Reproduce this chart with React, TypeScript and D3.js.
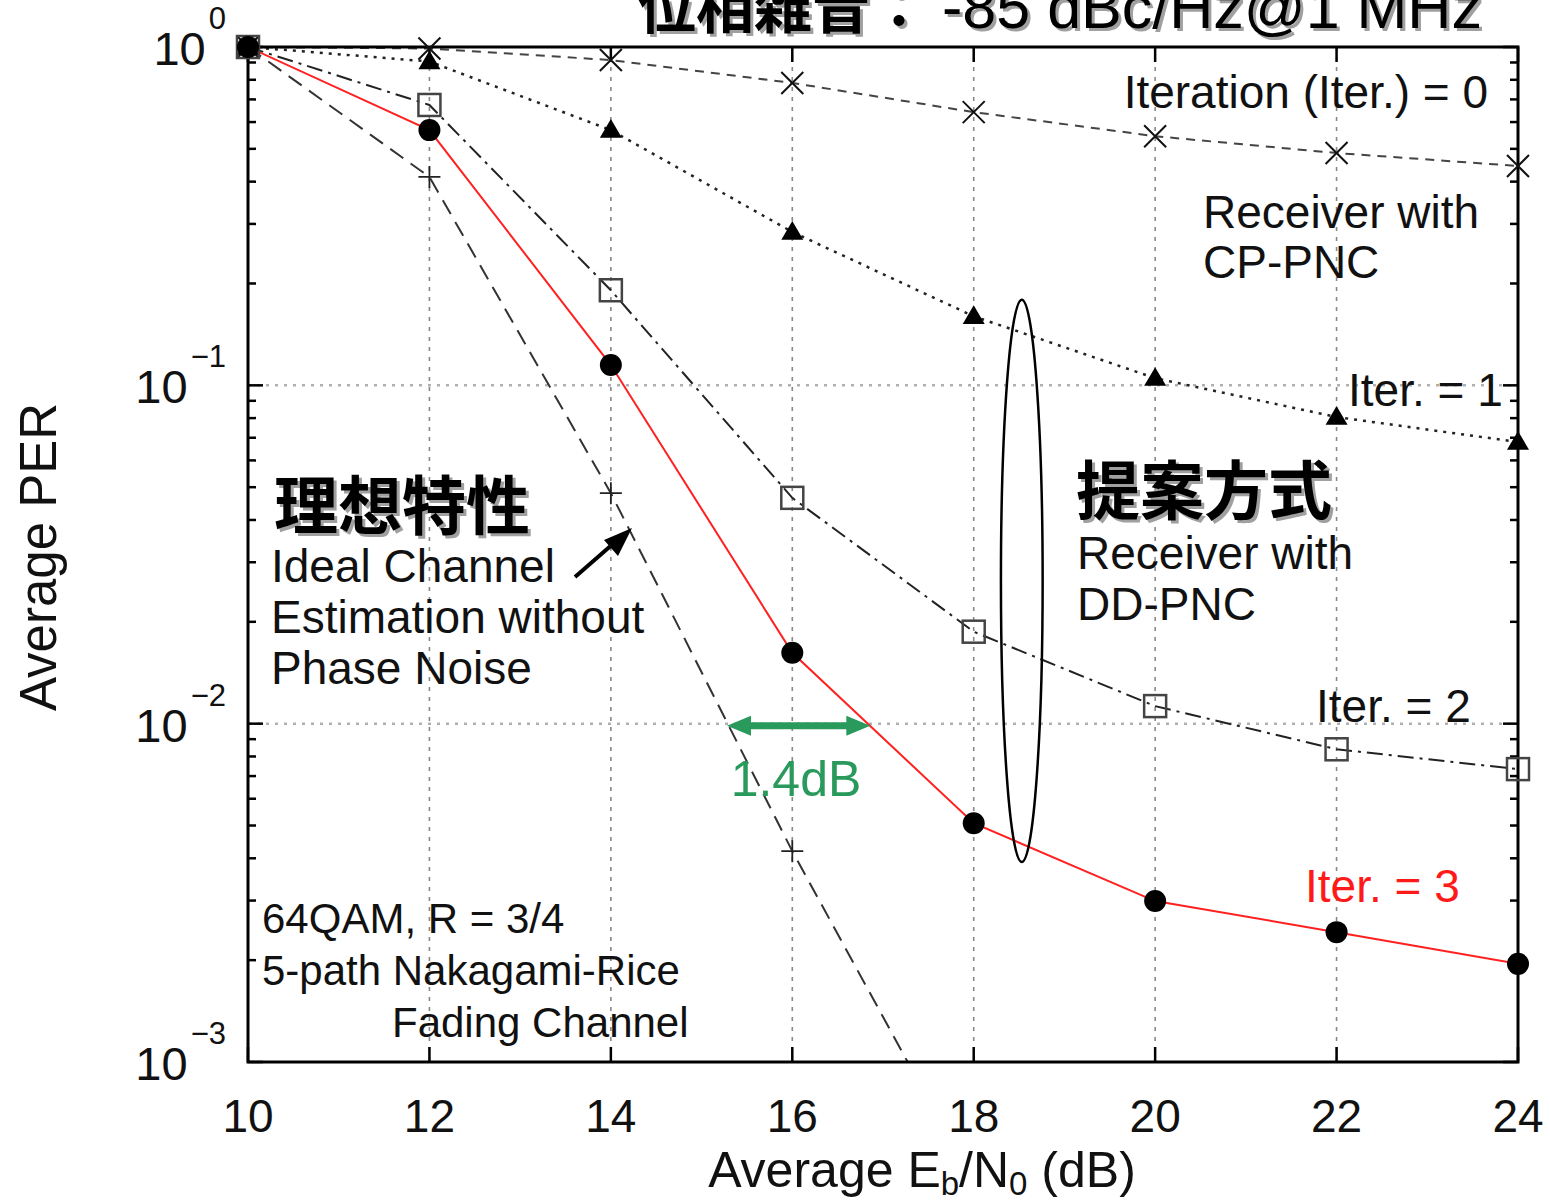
import React from "react";
import * as d3 from "d3";

const ebn0 = [10, 12, 14, 16, 18, 20, 22, 24];
const iter0 = [1.0, 0.99, 0.915, 0.783, 0.642, 0.545, 0.486, 0.445];
const iter1 = [1.0, 0.906, 0.568, 0.284, 0.16, 0.105, 0.0806, 0.068];
const iter2 = [1.0, 0.674, 0.191, 0.0465, 0.0187, 0.01127, 0.0084, 0.00734];
const iter3 = [1.0, 0.568, 0.1148, 0.0162, 0.00508, 0.00299, 0.00242, 0.00195];
const idealX = [10, 12, 14, 16, 18];
const ideal = [1.0, 0.413, 0.048, 0.0042, 0.00044];

const xTicks = [10, 12, 14, 16, 18, 20, 22, 24];
const yDecades = [0, -1, -2, -3];

const W = 1550;
const H = 1202;
const left = 248;
const right = 1518;
const top = 47;
const bottom = 1062;

const SANS = "'Liberation Sans', Arial, Helvetica, sans-serif";
const CJK = "'Noto Sans CJK JP', 'Noto Sans CJK SC', sans-serif";

const x = d3.scaleLinear().domain([10, 24]).range([left, right]);
const y = d3.scaleLog().domain([1e-3, 1]).range([bottom, top]);

type Series = {
  xs: number[];
  ys: number[];
  stroke: string;
  width: number;
  dash?: string;
  marker: "x" | "tri" | "sq" | "circ" | "plus";
};

const series: Series[] = [
  { xs: idealX, ys: ideal, stroke: "#333", width: 2, dash: "16,9", marker: "plus" },
  { xs: ebn0, ys: iter0, stroke: "#444", width: 2, dash: "9,7", marker: "x" },
  { xs: ebn0, ys: iter1, stroke: "#222", width: 2.5, dash: "3,6", marker: "tri" },
  { xs: ebn0, ys: iter2, stroke: "#222", width: 2, dash: "16,6,3,6", marker: "sq" },
  { xs: ebn0, ys: iter3, stroke: "#ff2020", width: 2, marker: "circ" },
];

function Marker({ kind, cx, cy }: { kind: string; cx: number; cy: number }) {
  if (kind === "x") {
    const s = 11;
    return (
      <path
        d={`M${cx - s},${cy - s}L${cx + s},${cy + s}M${cx - s},${cy + s}L${cx + s},${cy - s}`}
        stroke="#111"
        strokeWidth={2}
        fill="none"
      />
    );
  }
  if (kind === "plus") {
    const s = 11;
    return (
      <path
        d={`M${cx - s},${cy}L${cx + s},${cy}M${cx},${cy - s}L${cx},${cy + s}`}
        stroke="#222"
        strokeWidth={1.8}
        fill="none"
      />
    );
  }
  if (kind === "tri") {
    const s = 11;
    return (
      <path
        d={`M${cx},${cy - s}L${cx + s},${cy + s * 0.7}L${cx - s},${cy + s * 0.7}Z`}
        fill="#000"
      />
    );
  }
  if (kind === "sq") {
    const s = 11;
    return (
      <rect x={cx - s} y={cy - s} width={2 * s} height={2 * s} fill="none" stroke="#444" strokeWidth={2.5} />
    );
  }
  return <circle cx={cx} cy={cy} r={11} fill="#000" />;
}

function ShadowText(props: any) {
  const { x: tx, y: ty, children, ...rest } = props;
  return (
    <g>
      <text x={tx + 3} y={ty + 3} fill="#a0a0a0" {...rest}>
        {children}
      </text>
      <text x={tx} y={ty} fill="#000" {...rest}>
        {children}
      </text>
    </g>
  );
}

export default function App() {
  const line = (xs: number[], ys: number[]) =>
    d3
      .line<number>()
      .x((_, i) => x(xs[i]))
      .y((v) => y(v))(ys) as string;

  const minorTicks: number[] = [];
  [-3, -2, -1].forEach((dd) => {
    for (let m = 2; m <= 9; m++) minorTicks.push(m * Math.pow(10, dd));
  });

  // annotation positions in data units
  const ell = { x: 18.53, rxData: 0.23, yTop: 0.179, yBot: 0.0039 };
  const ellCy = (y(ell.yTop) + y(ell.yBot)) / 2;
  const ellRy = (y(ell.yBot) - y(ell.yTop)) / 2;
  const ellRx = x(ell.x + ell.rxData) - x(ell.x);

  const gArrow = { x1: 15.28, x2: 16.86, yv: 0.01 };
  const gy = y(gArrow.yv) + 2;
  const gx1 = x(gArrow.x1);
  const gx2 = x(gArrow.x2);
  const green = "#2a9a5c";

  return (
    <svg
      width={W}
      height={H}
      viewBox={`0 0 ${W} ${H}`}
      style={{ position: "absolute", left: 0, top: 0, background: "#fff" }}
      fontFamily={SANS}
    >
      <defs>
        <clipPath id="plotclip">
          <rect x={left} y={top} width={right - left} height={bottom - top} />
        </clipPath>
      </defs>
      <rect x={0} y={0} width={W} height={H} fill="#fff" />

      {/* grid */}
      {xTicks.slice(1, -1).map((t) => (
        <line
          key={"gx" + t}
          x1={x(t)}
          x2={x(t)}
          y1={top}
          y2={bottom}
          stroke="#888"
          strokeWidth={1.6}
          strokeDasharray="4,6"
        />
      ))}
      {yDecades.slice(1, -1).map((d) => (
        <line
          key={"gy" + d}
          x1={left}
          x2={right}
          y1={y(Math.pow(10, d))}
          y2={y(Math.pow(10, d))}
          stroke="#b0b0b0"
          strokeWidth={2.5}
          strokeDasharray="3,6"
        />
      ))}

      {/* series lines */}
      <g clipPath="url(#plotclip)">
        {series.map((s, i) => (
          <path
            key={"l" + i}
            d={line(s.xs, s.ys)}
            fill="none"
            stroke={s.stroke}
            strokeWidth={s.width}
            strokeDasharray={s.dash}
          />
        ))}
      </g>

      {/* frame */}
      <rect x={left} y={top} width={right - left} height={bottom - top} fill="none" stroke="#000" strokeWidth={3} />

      {/* ticks */}
      {xTicks.map((t) => (
        <g key={"xt" + t}>
          <line x1={x(t)} x2={x(t)} y1={bottom} y2={bottom - 15} stroke="#000" strokeWidth={2.5} />
          <line x1={x(t)} x2={x(t)} y1={top} y2={top + 15} stroke="#000" strokeWidth={2.5} />
          <text x={x(t)} y={1132} textAnchor="middle" fontSize={46} fill="#111">
            {t}
          </text>
        </g>
      ))}
      {yDecades.map((d) => {
        const yy = y(Math.pow(10, d));
        return (
          <g key={"yt" + d}>
            <line x1={left} x2={left + 15} y1={yy} y2={yy} stroke="#000" strokeWidth={2.5} />
            <line x1={right} x2={right - 15} y1={yy} y2={yy} stroke="#000" strokeWidth={2.5} />
            <text x={226} y={yy + 18} textAnchor="end" fontSize={47} fill="#111">
              10
              <tspan dx={3} dy={-36} fontSize={31}>
                {d === 0 ? "0" : "\u2212" + Math.abs(d)}
              </tspan>
            </text>
          </g>
        );
      })}
      {minorTicks.map((v, i) => (
        <g key={"mt" + i}>
          <line x1={left} x2={left + 8} y1={y(v)} y2={y(v)} stroke="#000" strokeWidth={2.5} />
          <line x1={right} x2={right - 8} y1={y(v)} y2={y(v)} stroke="#000" strokeWidth={2.5} />
        </g>
      ))}

      {/* markers */}
      {series.map((s, i) =>
        s.xs.map((xv, j) =>
          s.ys[j] >= 1e-3 ? <Marker key={`m${i}-${j}`} kind={s.marker} cx={x(xv)} cy={y(s.ys[j])} /> : null
        )
      )}

      {/* axis labels */}
      <text x={922} y={1187} textAnchor="middle" fontSize={50} fill="#111">
        Average E
        <tspan dy={8} fontSize={33}>
          b
        </tspan>
        <tspan dy={-8}>/N</tspan>
        <tspan dy={8} fontSize={33}>
          0
        </tspan>
        <tspan dy={-8}> (dB)</tspan>
      </text>
      <text transform="translate(56,557) rotate(-90)" textAnchor="middle" fontSize={51} fill="#111">
        Average PER
      </text>

      {/* title */}
      <ShadowText x={638} y={28} fontSize={58}>
        <tspan fontFamily={CJK} fontWeight="bold">
          位相雑音：
        </tspan>
        <tspan fontFamily={SANS} fontSize={61} dx={14}>
          -85 dBc/Hz@1 MHz
        </tspan>
      </ShadowText>

      {/* annotations */}
      <text x={1488} y={108} textAnchor="end" fontSize={46} fill="#111">
        Iteration (Iter.) = 0
      </text>
      <text x={1203} y={228} fontSize={46} fill="#111">
        Receiver with
      </text>
      <text x={1203} y={278} fontSize={46} fill="#111">
        CP-PNC
      </text>
      <text x={1348} y={406} fontSize={46} fill="#111">
        Iter. = 1
      </text>
      <text x={1316} y={722} fontSize={46} fill="#111">
        Iter. = 2
      </text>
      <text x={1305} y={902} fontSize={46} fill="#ff1a1a">
        Iter. = 3
      </text>

      <ShadowText x={1076} y={514} fontSize={64} fontFamily={CJK} fontWeight="bold">
        提案方式
      </ShadowText>
      <text x={1077} y={569} fontSize={46} fill="#111">
        Receiver with
      </text>
      <text x={1077} y={620} fontSize={46} fill="#111">
        DD-PNC
      </text>

      <ShadowText x={274} y={529} fontSize={64} fontFamily={CJK} fontWeight="bold">
        理想特性
      </ShadowText>
      <text x={271} y={582} fontSize={46} fill="#111">
        Ideal Channel
      </text>
      <text x={271} y={633} fontSize={46} fill="#111">
        Estimation without
      </text>
      <text x={271} y={684} fontSize={46} fill="#111">
        Phase Noise
      </text>

      <text x={262} y={933} fontSize={42} fill="#111">
        64QAM, R = 3/4
      </text>
      <text x={262} y={985} fontSize={42} fill="#111">
        5-path Nakagami-Rice
      </text>
      <text x={392} y={1037} fontSize={42} fill="#111">
        Fading Channel
      </text>

      {/* black arrow */}
      <line x1={575} y1={577} x2={614} y2={543} stroke="#000" strokeWidth={4} />
      <path d="M632,528 L604,540 L618,556 Z" fill="#000" />

      {/* ellipse */}
      <ellipse cx={x(ell.x)} cy={ellCy} rx={ellRx} ry={ellRy} fill="none" stroke="#000" strokeWidth={2.5} />

      {/* green arrow */}
      <line x1={gx1 + 18} x2={gx2 - 18} y1={gy} y2={gy} stroke={green} strokeWidth={7} />
      <path d={`M${gx1},${gy} L${gx1 + 24},${gy - 10} L${gx1 + 24},${gy + 10} Z`} fill={green} />
      <path d={`M${gx2},${gy} L${gx2 - 24},${gy - 10} L${gx2 - 24},${gy + 10} Z`} fill={green} />
      <text x={796} y={796} textAnchor="middle" fontSize={50} fill={green}>
        1.4dB
      </text>
    </svg>
  );
}
